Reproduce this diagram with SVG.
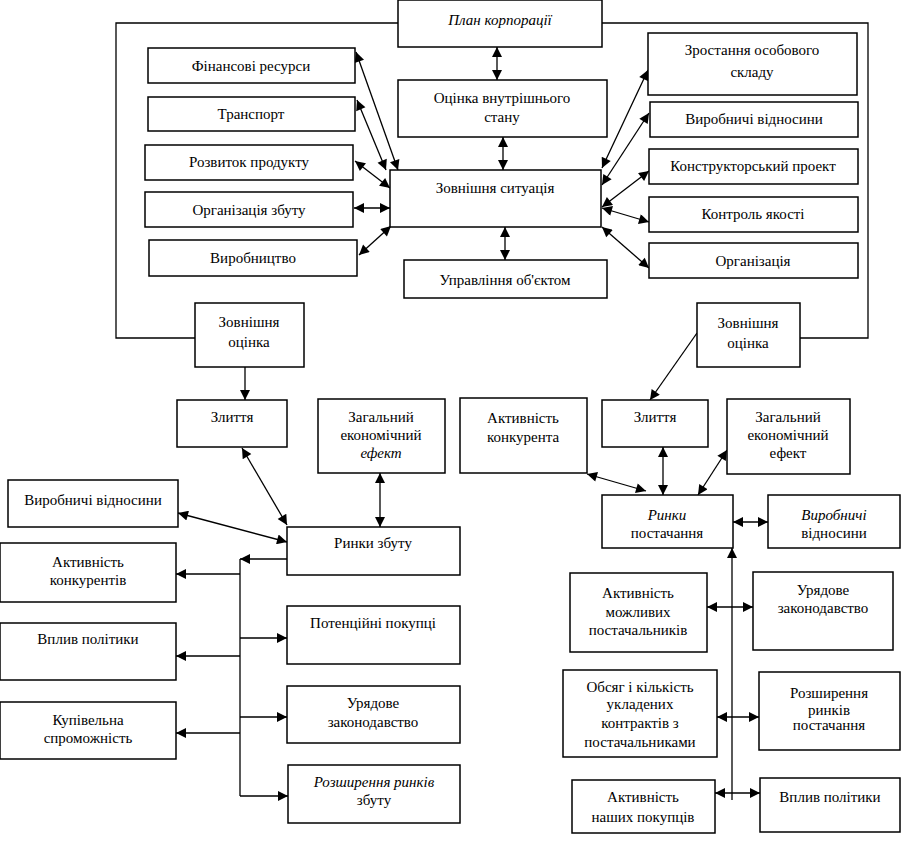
<svg xmlns="http://www.w3.org/2000/svg" width="902" height="845" viewBox="0 0 902 845" font-family="Liberation Serif, Times New Roman, serif">
<style>
rect{fill:#fff;stroke:#000;stroke-width:1.5}
text{font-family:"Liberation Serif","Times New Roman",serif;font-size:15px;fill:#000;text-anchor:middle}
.i{font-style:italic}
.c line,.c polyline{stroke:#000;stroke-width:1.3;fill:none}
.d{marker-start:url(#ah);marker-end:url(#ah)}
.s{marker-end:url(#ah)}
</style>
<defs>
<marker id="ah" viewBox="0 0 10 10" refX="10" refY="5" markerWidth="13" markerHeight="10" markerUnits="userSpaceOnUse" orient="auto-start-reverse"><path d="M0,0 L10,5 L0,10 z" fill="#000"/></marker>
</defs>
<rect x="0" y="0" width="902" height="845" style="stroke:none"/>
<g class="c" id="connectors">
<polyline points="398,23 116,23 116,338 195,338"/>
<polyline points="602,23 868,23 868,338 800,338"/>
<line class="d" x1="497" y1="47" x2="497" y2="80"/>
<line class="d" x1="503" y1="137" x2="503" y2="170"/>
<line class="d" x1="505" y1="227" x2="505" y2="260"/>
<line class="d" x1="356" y1="52" x2="398" y2="170"/>
<line class="d" x1="357" y1="100" x2="386" y2="170"/>
<line class="d" x1="355" y1="161" x2="390" y2="188"/>
<line class="d" x1="354" y1="208" x2="390" y2="208"/>
<line class="d" x1="359" y1="255" x2="391" y2="226"/>
<line class="d" x1="602" y1="168" x2="648" y2="70"/>
<line class="d" x1="602" y1="185" x2="649" y2="113"/>
<line class="d" x1="602" y1="207" x2="649" y2="171"/>
<line class="d" x1="602" y1="208" x2="649" y2="222"/>
<line class="d" x1="602" y1="227" x2="649" y2="268"/>
<line class="s" x1="245" y1="367" x2="245" y2="400"/>
<line class="s" x1="697" y1="333" x2="650" y2="400"/>
<line class="d" x1="242" y1="448" x2="287" y2="525"/>
<line class="d" x1="380" y1="473" x2="380" y2="527"/>
<line class="d" x1="178" y1="513" x2="287" y2="542"/>
<line class="d" x1="587" y1="474" x2="646" y2="491"/>
<line class="d" x1="663" y1="447" x2="663" y2="495"/>
<line class="d" x1="727" y1="450" x2="698" y2="495"/>
<line class="d" x1="733" y1="522" x2="768" y2="522"/>
<line class="s" x1="287" y1="559" x2="240" y2="559"/>
<line x1="240" y1="559" x2="240" y2="796"/>
<line class="s" x1="240" y1="574" x2="176" y2="574"/>
<line class="s" x1="240" y1="638" x2="287" y2="638"/>
<line class="s" x1="240" y1="656" x2="176" y2="656"/>
<line class="s" x1="240" y1="717" x2="287" y2="717"/>
<line class="s" x1="240" y1="733" x2="176" y2="733"/>
<line class="s" x1="240" y1="796" x2="288" y2="796"/>
<line class="s" x1="732" y1="800" x2="732" y2="548"/>
<line class="d" x1="707" y1="607" x2="753" y2="607"/>
<line class="d" x1="717" y1="717" x2="759" y2="717"/>
<line class="d" x1="715" y1="793" x2="760" y2="793"/>
</g>
<g id="plan"><rect x="398" y="0" width="204" height="47"/><text class="i" x="500" y="25">План корпорації</text></g>
<g id="otsinka"><rect x="398" y="80" width="209" height="57"/><text x="502" y="103">Оцінка внутрішнього</text><text x="502" y="122">стану</text></g>
<g id="sytuatsiia"><rect x="390" y="170" width="211" height="57"/><text x="495" y="193">Зовнішня ситуація</text></g>
<g id="upravlinnia"><rect x="404" y="260" width="203" height="38"/><text x="505" y="285">Управління об'єктом</text></g>
<g id="finansy"><rect x="148" y="48" width="207" height="35"/><text x="251" y="71">Фінансові ресурси</text></g>
<g id="transport"><rect x="148" y="97" width="207" height="34"/><text x="251" y="119">Транспорт</text></g>
<g id="rozvytok"><rect x="145" y="145" width="208" height="35"/><text x="249" y="167">Розвиток продукту</text></g>
<g id="orgzbutu"><rect x="145" y="192" width="208" height="35"/><text x="249" y="215">Організація збуту</text></g>
<g id="vyrobnytstvo"><rect x="149" y="240" width="208" height="36"/><text x="253" y="263">Виробництво</text></g>
<g id="zrostannia"><rect x="648" y="33" width="209" height="62"/><text x="752" y="55">Зростання особового</text><text x="752" y="77">складу</text></g>
<g id="vidnosyny1"><rect x="650" y="102" width="208" height="35"/><text x="754" y="124">Виробничі відносини</text></g>
<g id="konstruktor"><rect x="649" y="149" width="209" height="35"/><text x="753" y="171">Конструкторський проект</text></g>
<g id="kontrol"><rect x="649" y="197" width="209" height="35"/><text x="753" y="219">Контроль якості</text></g>
<g id="orhanizatsiia"><rect x="649" y="243" width="209" height="35"/><text x="753" y="266">Організація</text></g>
<g id="zovnotsL"><rect x="195" y="303" width="109" height="64"/><text x="249" y="327">Зовнішня</text><text x="249" y="347">оцінка</text></g>
<g id="zovnotsR"><rect x="697" y="303" width="103" height="64"/><text x="748" y="328">Зовнішня</text><text x="748" y="348">оцінка</text></g>
<g id="zlyttiaL"><rect x="177" y="400" width="110" height="47"/><text x="232" y="422">Злиття</text></g>
<g id="efektL"><rect x="318" y="399" width="127" height="74"/><text x="381" y="422">Загальний</text><text x="381" y="440">економічний</text><text class="i" x="381" y="458">ефект</text></g>
<g id="vidnosynyL"><rect x="8" y="480" width="170" height="47"/><text x="93" y="505">Виробничі відносини</text></g>
<g id="rynkyzbutu"><rect x="287" y="527" width="173" height="48"/><text x="373" y="548">Ринки збуту</text></g>
<g id="aktkonkurentiv"><rect x="0" y="543" width="176" height="59"/><text x="88" y="567">Активність</text><text x="88" y="585">конкурентів</text></g>
<g id="vplyvL"><rect x="0" y="623" width="176" height="57"/><text x="88" y="644">Вплив політики</text></g>
<g id="kupivelna"><rect x="0" y="702" width="176" height="57"/><text x="88" y="725">Купівельна</text><text x="88" y="743">спроможність</text></g>
<g id="potentsiini"><rect x="287" y="606" width="173" height="58"/><text x="373" y="628">Потенційні покупці</text></g>
<g id="uriadoveL"><rect x="287" y="686" width="173" height="57"/><text x="373" y="708">Урядове</text><text x="373" y="727">законодавство</text></g>
<g id="rozshyrzbutu"><rect x="288" y="765" width="172" height="58"/><text class="i" x="374" y="787">Розширення ринків</text><text x="374" y="805">збуту</text></g>
<g id="aktkonkurenta"><rect x="460" y="398" width="127" height="75"/><text x="523" y="423">Активність</text><text x="523" y="442">конкурента</text></g>
<g id="zlyttiaR"><rect x="602" y="400" width="106" height="47"/><text x="655" y="422">Злиття</text></g>
<g id="efektR"><rect x="727" y="399" width="123" height="75"/><text x="788" y="422">Загальний</text><text x="788" y="440">економічний</text><text x="788" y="458">ефект</text></g>
<g id="rynkypost"><rect x="602" y="495" width="131" height="53"/><text class="i" x="667" y="520">Ринки</text><text x="667" y="538">постачання</text></g>
<g id="vidnosynyR"><rect x="768" y="495" width="132" height="53"/><text class="i" x="834" y="520">Виробничі</text><text x="834" y="538">відносини</text></g>
<g id="aktmozhlyvykh"><rect x="570" y="573" width="137" height="79"/><text x="638" y="598">Активність</text><text x="638" y="617">можливих</text><text x="638" y="635">постачальників</text></g>
<g id="uriadoveR"><rect x="753" y="572" width="140" height="78"/><text x="823" y="595">Урядове</text><text x="823" y="613">законодавство</text></g>
<g id="obsiah"><rect x="563" y="670" width="154" height="87"/><text x="640" y="692">Обсяг і кількість</text><text x="640" y="709">укладених</text><text x="640" y="728">контрактів з</text><text x="640" y="747">постачальниками</text></g>
<g id="rozshyrpost"><rect x="759" y="672" width="141" height="78"/><text x="829" y="698">Розширення</text><text x="829" y="715">ринків</text><text x="829" y="730">постачання</text></g>
<g id="aktnashykh"><rect x="572" y="780" width="143" height="53"/><text x="643" y="802">Активність</text><text x="643" y="822">наших покупців</text></g>
<g id="vplyvR"><rect x="760" y="778" width="140" height="54"/><text x="830" y="802">Вплив політики</text></g>
</svg>
